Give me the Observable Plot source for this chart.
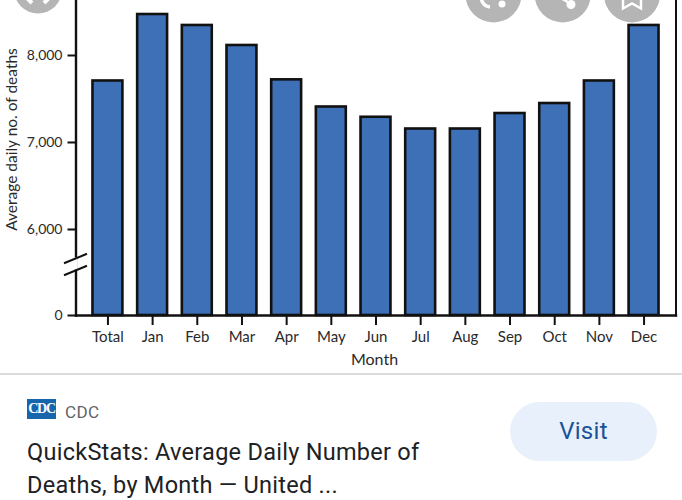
<!DOCTYPE html>
<html>
<head>
<meta charset="utf-8">
<script src="https://cdn.jsdelivr.net/npm/d3@7"></script>
<script src="https://cdn.jsdelivr.net/npm/@observablehq/plot@0.6"></script>
<style>
html,body{margin:0;padding:0;background:#fff;overflow:hidden}
#page{position:relative;width:682px;height:500px;overflow:hidden;font-family:Roboto,sans-serif}
#chart svg{display:block}
.abs{position:absolute;white-space:nowrap}
</style>
</head>
<body>
<div id="page">
  <div id="chart"></div>
  <svg class="abs" style="left:0;top:0" width="682" height="30" viewBox="0 0 682 30">
    <circle cx="38" cy="-10.5" r="24" fill="#b5b5b5"/>
    <circle cx="493.5" cy="-5.5" r="28" fill="#b5b5b5"/>
    <circle cx="562.7" cy="-5.5" r="28" fill="#b5b5b5"/>
    <circle cx="632" cy="-5.5" r="28" fill="#b5b5b5"/>
    <path d="M27 -2 L32 3 M49 -2 L44 3" stroke="#fff" stroke-width="4" fill="none"/>
    <circle cx="502" cy="4" r="3.5" fill="#fff"/>
    <path d="M481 -3 Q482 6 490 7" stroke="#fff" stroke-width="3.5" fill="none"/>
    <circle cx="571" cy="4.5" r="4.5" fill="#fff"/>
    <path d="M556 -5 L571 4" stroke="#fff" stroke-width="2.5" fill="none"/>
    <path d="M623 -3 L623 8.5 L632 3.5 L641 8.5 L641 -3" stroke="#fff" stroke-width="2.5" fill="none"/>
  </svg>
  <div class="abs" style="left:0;top:373px;width:682px;height:2px;background:#dcdcdc"></div>
  <div class="abs" style="left:27px;top:399px;width:29px;height:20px;background:#1766ac;color:#fff;font:bold 14px/20px 'Liberation Serif',serif;text-align:center;letter-spacing:-1.2px">CDC</div>
  <div class="abs" id="source" style="left:65px;top:402px;font-size:17px;line-height:20px;color:#5f6368;letter-spacing:.4px"></div>
  <div class="abs" id="title" style="left:27px;top:436px;font-size:23.5px;line-height:33px;color:#202124;letter-spacing:.27px"></div>
  <div class="abs" id="visit" style="left:510px;top:402px;width:147px;height:59px;border-radius:30px;background:#e8f0fb;color:#1a5299;font-size:24px;line-height:59px;text-align:center;letter-spacing:.3px"></div>
</div>
<script>
const months = ["Total","Jan","Feb","Mar","Apr","May","Jun","Jul","Aug","Sep","Oct","Nov","Dec"];
const deaths = [7707,8471,8345,8115,7720,7408,7290,7155,7155,7333,7448,7707,8345];
const yTicks = [0,6000,7000,8000];
const yDomain = [0,5500,8632];
const yRange = [315,272.5,0];
const yLabelAt = 7034;
const yLabel = "Average daily no. of deaths";
const xLabel = "Month";
const sourceName = "CDC";
const titleLines = ["QuickStats: Average Daily Number of","Deaths, by Month — United ..."];
const visitText = "Visit";

const table = months.map((m,i)=>({month:m,value:deaths[i]}));
const ink = "#111";
const font = "Lato, 'Open Sans', sans-serif";

const breakMark = (index,{y},values,dim,ctx)=>{
  const g = d3.select(ctx.document.createElementNS("http://www.w3.org/2000/svg","g"));
  const x0 = dim.marginLeft;
  const yb = y(5500);
  g.append("line").attr("x1",x0).attr("x2",x0).attr("y1",yb-15).attr("y2",yb-3).attr("stroke","#fff").attr("stroke-width",4);
  [-14,-2].forEach(o=>g.append("line")
    .attr("x1",x0-11.5).attr("x2",x0+11.5)
    .attr("y1",yb+o+4.7).attr("y2",yb+o-4.7)
    .attr("stroke",ink).attr("stroke-width",2));
  return g.node();
};

const chart = Plot.plot({
  width:682, height:375,
  marginLeft:75.5, marginRight:6.5, marginTop:0, marginBottom:60,
  style:{fontFamily:font,color:"#2a2a2a",background:"transparent",overflow:"visible"},
  x:{domain:months,paddingInner:0.33,paddingOuter:0.38,align:0.5,round:false},
  y:{type:"linear",domain:yDomain,range:yRange},
  marks:[
    Plot.barY(table,{x:"month",y1:0,y2:"value",fill:"#3e70b7",stroke:ink,strokeWidth:2.6}),
    Plot.frame({anchor:"left",stroke:ink,strokeWidth:2.4}),
    Plot.frame({anchor:"right",stroke:ink,strokeWidth:2}),
    Plot.frame({anchor:"bottom",stroke:ink,strokeWidth:2.4}),
    breakMark,
    Plot.axisY({ticks:yTicks,tickFormat:d3.format(","),tickSize:8,tickPadding:5.5,strokeWidth:2,stroke:ink,fontSize:14,label:null}),
    Plot.axisX({tickSize:10,tickPadding:5.5,strokeWidth:2,stroke:ink,fontSize:15,label:null}),
    Plot.text([xLabel],{text:d=>d,frameAnchor:"bottom",x:["Jun"],dx:-1.5,dy:44,lineAnchor:"middle",fontSize:16,fill:"#2a2a2a"}),
    Plot.text([yLabel],{text:d=>d,frameAnchor:"left",textAnchor:"middle",y:[yLabelAt],rotate:-90,dx:-63.5,fontSize:15.5,fill:"#2a2a2a"})
  ]
});
document.getElementById("chart").appendChild(chart);
document.getElementById("source").textContent = sourceName;
document.getElementById("title").innerHTML = titleLines.join("<br>");
document.getElementById("visit").textContent = visitText;
</script>
</body>
</html>
